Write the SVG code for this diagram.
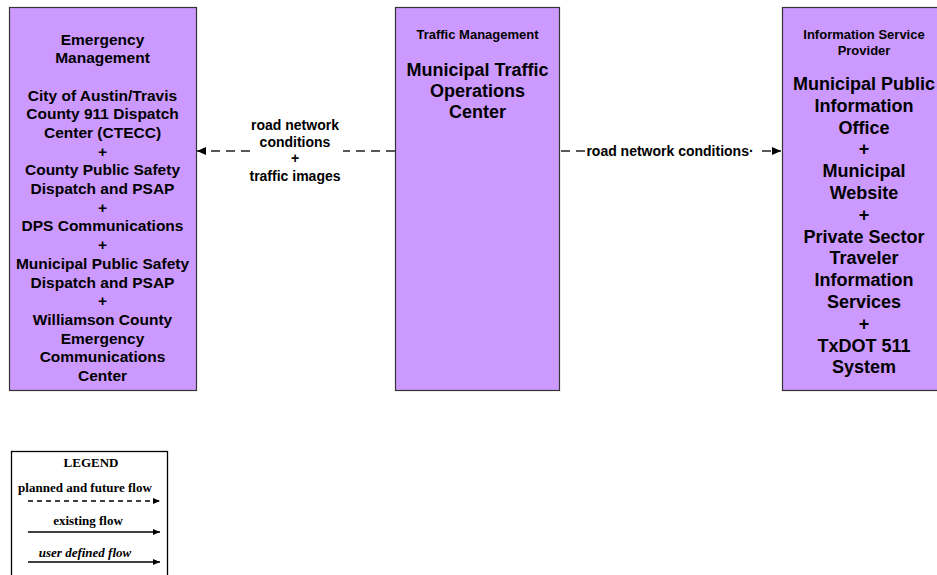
<svg xmlns="http://www.w3.org/2000/svg" width="937" height="575" viewBox="0 0 937 575">
<style>
.box{fill:#CC99FF;stroke:#333333;stroke-width:1.2}
.t{font-family:"Liberation Sans",Arial,sans-serif;font-weight:bold;text-anchor:middle;fill:#000}
.s13{font-size:13px}
.s15{font-size:15.5px}
.s18{font-size:18px}
.lbl{font-family:"Liberation Sans",Arial,sans-serif;font-weight:bold;font-size:14px;text-anchor:middle;fill:#000}
.flow{stroke:#222;stroke-width:1.3;fill:none;stroke-dasharray:9 6}
.lg{font-family:"Liberation Serif","Times New Roman",serif;font-weight:bold;font-size:13px;text-anchor:middle;fill:#000}
</style>
<defs>
<marker id="ah" markerWidth="10" markerHeight="8" refX="9" refY="4" orient="auto" markerUnits="userSpaceOnUse">
<path d="M0,0 L9,4 L0,8 z" fill="#000"/>
</marker>
<marker id="ahs" markerWidth="8" markerHeight="6" refX="7" refY="3" orient="auto" markerUnits="userSpaceOnUse">
<path d="M0,0 L7,3 L0,6 z" fill="#000"/>
</marker>
</defs>
<rect width="937" height="575" fill="#fff"/>

<g id="connectors">
<line class="flow" x1="395" y1="151" x2="343" y2="151"/>
<line class="flow" x1="250" y1="151" x2="197" y2="151" marker-end="url(#ah)"/>
<text class="lbl" x="295" y="130">road network</text>
<text class="lbl" x="295" y="147">conditions</text>
<text class="lbl" x="295" y="163">+</text>
<text class="lbl" x="295" y="181">traffic images</text>
<line class="flow" x1="561" y1="151" x2="586" y2="151"/>
<line class="flow" x1="762" y1="151" x2="781" y2="151" marker-end="url(#ah)"/>
<text class="lbl" x="670" y="156">road network conditions·</text>
</g>

<g id="emergency-management">
<rect class="box" x="9.5" y="7.5" width="187" height="383"/>
<text class="t s15" x="102.5" y="45">Emergency</text>
<text class="t s15" x="102.5" y="63">Management</text>
<text class="t s15" x="102.5" y="100.5">City of Austin/Travis</text>
<text class="t s15" x="102.5" y="119.2">County 911 Dispatch</text>
<text class="t s15" x="102.5" y="137.9">Center (CTECC)</text>
<text class="t s15" x="102.5" y="156.6">+</text>
<text class="t s15" x="102.5" y="175.3">County Public Safety</text>
<text class="t s15" x="102.5" y="194">Dispatch and PSAP</text>
<text class="t s15" x="102.5" y="212.7">+</text>
<text class="t s15" x="102.5" y="231.4">DPS Communications</text>
<text class="t s15" x="102.5" y="250.1">+</text>
<text class="t s15" x="102.5" y="268.8">Municipal Public Safety</text>
<text class="t s15" x="102.5" y="287.5">Dispatch and PSAP</text>
<text class="t s15" x="102.5" y="306.2">+</text>
<text class="t s15" x="102.5" y="324.9">Williamson County</text>
<text class="t s15" x="102.5" y="343.6">Emergency</text>
<text class="t s15" x="102.5" y="362.3">Communications</text>
<text class="t s15" x="102.5" y="381">Center</text>
</g>

<g id="traffic-management">
<rect class="box" x="395.5" y="7.5" width="164" height="383"/>
<text class="t s13" x="477.5" y="39">Traffic Management</text>
<text class="t s18" x="477.5" y="76">Municipal Traffic</text>
<text class="t s18" x="477.5" y="97">Operations</text>
<text class="t s18" x="477.5" y="118">Center</text>
</g>

<g id="information-service-provider">
<rect class="box" x="782.5" y="7.5" width="164" height="383"/>
<text class="t s13" x="864" y="39">Information Service</text>
<text class="t s13" x="864" y="55">Provider</text>
<text class="t s18" x="864" y="90">Municipal Public</text>
<text class="t s18" x="864" y="111.8">Information</text>
<text class="t s18" x="864" y="133.6">Office</text>
<text class="t s18" x="864" y="155.4">+</text>
<text class="t s18" x="864" y="177.2">Municipal</text>
<text class="t s18" x="864" y="199">Website</text>
<text class="t s18" x="864" y="220.8">+</text>
<text class="t s18" x="864" y="242.6">Private Sector</text>
<text class="t s18" x="864" y="264.4">Traveler</text>
<text class="t s18" x="864" y="286.2">Information</text>
<text class="t s18" x="864" y="308">Services</text>
<text class="t s18" x="864" y="329.8">+</text>
<text class="t s18" x="864" y="351.6">TxDOT 511</text>
<text class="t s18" x="864" y="373.4">System</text>
</g>

<g id="legend">
<rect x="11.5" y="451.5" width="156" height="140" fill="#fff" stroke="#000" stroke-width="1.3"/>
<text class="lg" x="91" y="467">LEGEND</text>
<text class="lg" x="85" y="492">planned and future flow</text>
<line x1="28" y1="501" x2="160" y2="501" stroke="#000" stroke-width="1.3" stroke-dasharray="5 4" marker-end="url(#ahs)"/>
<text class="lg" x="88" y="525">existing flow</text>
<line x1="28" y1="532" x2="160" y2="532" stroke="#000" stroke-width="1.3" marker-end="url(#ahs)"/>
<text class="lg" x="85" y="557" font-style="italic">user defined flow</text>
<line x1="28" y1="562" x2="160" y2="562" stroke="#000" stroke-width="1.3" marker-end="url(#ahs)"/>
</g>
</svg>
